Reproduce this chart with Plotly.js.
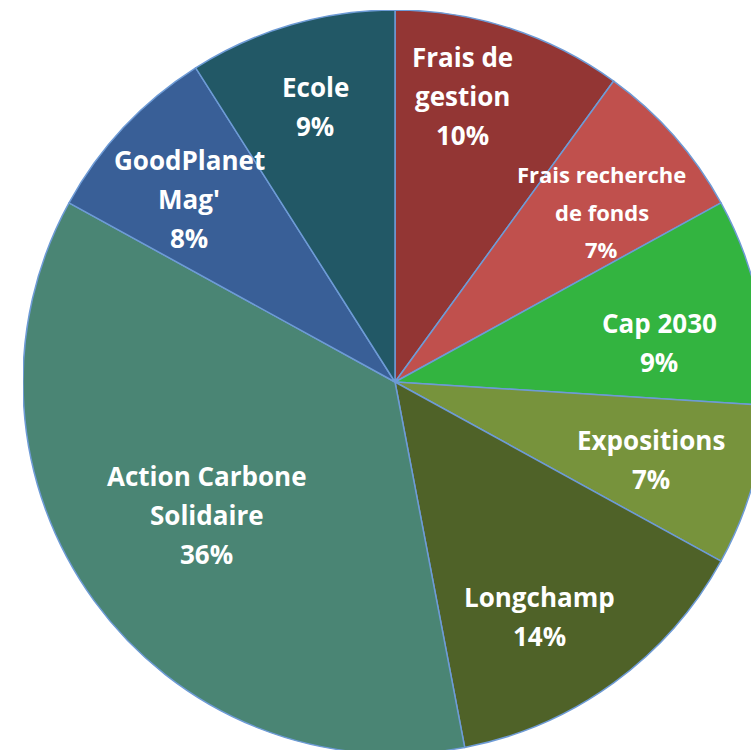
<!DOCTYPE html>
<html>
<head>
<meta charset="utf-8">
<script src="https://cdn.plot.ly/plotly-3.0.1.min.js"></script>
<style>
  html, body { margin: 0; padding: 0; background: #ffffff; overflow: hidden; width: 751px; height: 750px; }
  #chart { position: absolute; left: 23px; top: 10px; width: 744px; height: 744px; }
</style>
</head>
<body>
<div id="chart"></div>
<script>
// Data
const categories = ["Frais de gestion", "Frais recherche de fonds", "Cap 2030", "Expositions", "Longchamp", "Action Carbone Solidaire", "GoodPlanet Mag'", "Ecole"];
const labelLines = [["Frais de", "gestion"], ["Frais recherche", "de fonds"], ["Cap 2030"], ["Expositions"], ["Longchamp"], ["Action Carbone", "Solidaire"], ["GoodPlanet", "Mag'"], ["Ecole"]];
const values = [10, 7, 9, 7, 14, 36, 8, 9];

// Style
const colors = ["#933634", "#C0504D", "#33B440", "#77933C", "#4F6228", "#4A8574", "#395F97", "#225866"];
const labelRadius = [0.79, 0.72, 0.718, 0.72, 0.74, 0.62, 0.74, 0.77];
const labelShiftDeg = [-4.8, 2.0, 4.0, 0.7, 4.3, 0.7, -1.6, 0];
const labelSize = [26, 22, 26, 26, 26, 26, 26, 26];
const lineGap = [39, 37.5, 39, 39, 39, 39, 39, 39];
const SIZE = 744;

const total = values.reduce((a, b) => a + b, 0);
const annotations = [];
let cum = 0;
values.forEach((v, i) => {
  const pct = Math.round(v / total * 100) + "%";
  const ang = (cum + v / 2) / total * 2 * Math.PI + labelShiftDeg[i] * Math.PI / 180;
  cum += v;
  const R = SIZE / 2;
  const dx = labelRadius[i] * R * Math.sin(ang);
  const dy = -labelRadius[i] * R * Math.cos(ang);
  const lines = labelLines[i].concat([pct]);
  lines.forEach((ln, j) => {
    annotations.push({
      xref: "paper", yref: "paper",
      x: 0.5 + dx / SIZE, y: 0.5 - dy / SIZE,
      xanchor: "center", yanchor: "middle",
      yshift: ((lines.length - 1) / 2 - j) * lineGap[i],
      text: ln, showarrow: false,
      font: { family: "Open Sans, sans-serif", size: labelSize[i], color: "#ffffff", weight: "bold" }
    });
  });
});

const trace = {
  type: "pie",
  labels: categories,
  values: values,
  sort: false,
  direction: "clockwise",
  rotation: 0,
  marker: { colors: colors, line: { color: "#6E9BD6", width: 1.5 } },
  textinfo: "none",
  hoverinfo: "none",
  showlegend: false
};

Plotly.newPlot("chart", [trace], {
  width: SIZE, height: SIZE,
  margin: { l: 0, r: 0, t: 0, b: 0 },
  paper_bgcolor: "rgba(0,0,0,0)",
  plot_bgcolor: "rgba(0,0,0,0)",
  annotations: annotations,
  showlegend: false
}, { displayModeBar: false, staticPlot: true });
</script>
</body>
</html>
